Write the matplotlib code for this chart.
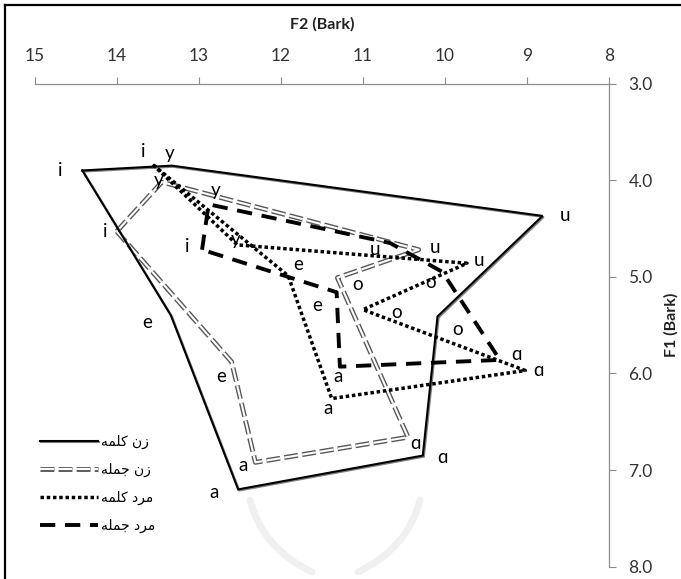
import matplotlib
matplotlib.use('Agg')
import matplotlib.pyplot as plt
from matplotlib.lines import Line2D
from matplotlib.legend_handler import HandlerTuple
from matplotlib.path import Path
from matplotlib.patches import PathPatch
import matplotlib.patheffects as pe

plt.rcParams['lines.scale_dashes'] = False

# ---------------- data ----------------
vowels = ['i', 'y', 'u', 'o', 'ɑ', 'a', 'e']

women_word_f2 = [14.42, 13.33, 8.81, 10.09, 10.27, 12.52, 13.34]
women_word_f1 = [3.90, 3.85, 4.37, 5.41, 6.85, 7.20, 5.40]

women_sent_f2 = [14.00, 13.45, 10.32, 11.31, 10.45, 12.31, 12.60]
women_sent_f1 = [4.53, 4.02, 4.72, 5.01, 6.66, 6.92, 5.88]

men_word_f2 = [13.56, 12.53, 9.73, 11.00, 9.02, 11.38, 11.91]
men_word_f1 = [3.84, 4.67, 4.86, 5.34, 5.97, 6.26, 4.99]

men_sent_f2 = [12.96, 12.88, 10.67, 10.03, 9.33, 11.28, 11.32]
men_sent_f1 = [4.72, 4.25, 4.65, 4.95, 5.86, 5.93, 5.16]

series_names = ['زن کلمه', 'زن جمله', 'مرد کلمه', 'مرد جمله']

x_ticks = [15, 14, 13, 12, 11, 10, 9, 8]
y_ticks = [3.0, 4.0, 5.0, 6.0, 7.0, 8.0]

# label offsets (pixels) for each vowel label
off_ww = [(-22, 0), (-2, 12), (22, 0), (20, -13), (20, -2), (-24, -3), (-24, -7)]
off_ws = [(-12, 0), (-3, 2), (16, 2), (20, -7), (8, -6), (-12, -3), (-10, -15)]
off_mw = [(-10, 13), (-2, 5), (12, 3), (34, -3), (13, 0), (-4, -10), (10, 11)]
off_ms = [(-15, 3), (7, 14), (-15, -7), (-12, -11), (17, 5), (-2, -10), (-19, -13)]

# ------------- Persian shaping (presentation forms, visual order) -------------
FORMS = {
    'ز': ('\uFEAF', '\uFEB0', None, None),
    'ر': ('\uFEAD', '\uFEAE', None, None),
    'د': ('\uFEA9', '\uFEAA', None, None),
    'ن': ('\uFEE5', '\uFEE6', '\uFEE7', '\uFEE8'),
    'ک': ('\uFB8E', '\uFB8F', '\uFB90', '\uFB91'),
    'ل': ('\uFEDD', '\uFEDE', '\uFEDF', '\uFEE0'),
    'م': ('\uFEE1', '\uFEE2', '\uFEE3', '\uFEE4'),
    'ه': ('\uFEE9', '\uFEEA', '\uFEEB', '\uFEEC'),
    'ج': ('\uFE9D', '\uFE9E', '\uFE9F', '\uFEA0'),
}


def shape(s):
    out = []
    for k, ch in enumerate(s):
        if ch not in FORMS:
            out.append(ch)
            continue
        prev = s[k - 1] if k > 0 else ''
        nxt = s[k + 1] if k + 1 < len(s) else ''
        jp = prev in FORMS and FORMS[prev][2] is not None
        jn = FORMS[ch][2] is not None and nxt in FORMS
        f = FORMS[ch]
        if jp and jn:
            out.append(f[3])
        elif jp:
            out.append(f[1])
        elif jn:
            out.append(f[2])
        else:
            out.append(f[0])
    return ''.join(out[::-1])


# ---------------- figure ----------------
W, H = 681, 579
fig = plt.figure(figsize=(W / 100, H / 100), dpi=100)


def fy(y):
    return 1 - y / H


# faint watermark at bottom centre (figure pixel coords)
wm_paths = [
    [(250, 500), (262, 548), (312, 572)],
    [(420, 500), (408, 548), (358, 572)],
]
for pts in wm_paths:
    verts = [(x / W, fy(y)) for x, y in pts]
    fig.add_artist(PathPatch(Path(verts, [Path.MOVETO, Path.CURVE3, Path.CURVE3]),
                             transform=fig.transFigure, fill=False,
                             edgecolor='#f0f0f0', lw=5, capstyle='round', zorder=0))

ax = fig.add_axes([34.7 / W, 1 - 566.7 / H, (609 - 34.7) / W, (566.7 - 83.5) / H])
ax.patch.set_alpha(0)
ax.set_xlim(15, 8)
ax.set_ylim(8, 3)

ax.xaxis.tick_top()
ax.xaxis.set_label_position('top')
ax.yaxis.tick_right()
ax.yaxis.set_label_position('right')
for s in ['left', 'bottom']:
    ax.spines[s].set_visible(False)
for s in ['top', 'right']:
    ax.spines[s].set_color('#8c8c8c')
    ax.spines[s].set_linewidth(0.9)

ax.set_xticks(x_ticks)
ax.set_xticklabels([str(t) for t in x_ticks])
ax.set_yticks(y_ticks)
ax.set_yticklabels(['%.1f' % t for t in y_ticks])
tick_font = ['Lato', 'DejaVu Sans']
for lab in ax.get_xticklabels() + ax.get_yticklabels():
    lab.set_family(tick_font)
ax.tick_params(axis='x', direction='out', length=5, color='#8c8c8c',
               labelsize=12.5, labelcolor='#333333', pad=8.8)
ax.tick_params(axis='y', direction='out', length=5, color='#8c8c8c',
               labelsize=12.5, labelcolor='#333333', pad=9)
ax.set_xlabel('F2 (Bark)', fontsize=11.5, fontweight='bold', family=tick_font,
              color='#222222', labelpad=14)
ax.set_ylabel('F1 (Bark)', fontsize=11.5, fontweight='bold', family=tick_font,
              color='#222222', labelpad=8, rotation=90)

DASH_DOUBLE = (0, (10, 3))
DASH_DOT = (0, (2.5, 2.0))
DASH_LONG = (0, (11, 7))
GRAY_D = '#575757'


def closed(a):
    return list(a) + [a[0]]


# women sentence (double gray dashed line) drawn first
ax.plot(closed(women_sent_f2), closed(women_sent_f1), color=GRAY_D, lw=3.5,
        linestyle=DASH_DOUBLE, dash_capstyle='butt', solid_joinstyle='miter')
ax.plot(closed(women_sent_f2), closed(women_sent_f1), color='white', lw=1.5,
        linestyle=DASH_DOUBLE, dash_capstyle='butt')

# women word (solid with gray shadow)
shadow = [pe.SimpleLineShadow(offset=(0.8, -0.8), shadow_color='#808080', alpha=1),
          pe.Normal()]
ax.plot(closed(women_word_f2), closed(women_word_f1), color='black', lw=1.5,
        path_effects=shadow, solid_joinstyle='miter')

# men word (dotted)
ax.plot(closed(men_word_f2), closed(men_word_f1), color='black', lw=2.5,
        linestyle=DASH_DOT, dash_capstyle='butt')

# men sentence (long dashes)
ax.plot(closed(men_sent_f2), closed(men_sent_f1), color='black', lw=2.8,
        linestyle=DASH_LONG, dash_capstyle='butt')

lab_font = ['Lato', 'DejaVu Sans']
for xs, ys, offs in [(women_word_f2, women_word_f1, off_ww),
                     (women_sent_f2, women_sent_f1, off_ws),
                     (men_word_f2, men_word_f1, off_mw),
                     (men_sent_f2, men_sent_f1, off_ms)]:
    for v, xv, yv, o in zip(vowels, xs, ys, offs):
        ax.annotate(v, (xv, yv), xytext=o, textcoords='offset pixels',
                    ha='center', va='center', fontsize=13.5, family=lab_font,
                    color='black')

# legend
h1 = Line2D([], [], color='black', lw=1.5, path_effects=shadow)
h2 = (Line2D([], [], color=GRAY_D, lw=3.5, linestyle=DASH_DOUBLE, dash_capstyle='butt'),
      Line2D([], [], color='white', lw=1.5, linestyle=DASH_DOUBLE, dash_capstyle='butt'))
h3 = Line2D([], [], color='black', lw=2.5, linestyle=DASH_DOT, dash_capstyle='butt')
h4 = Line2D([], [], color='black', lw=2.8, linestyle=DASH_LONG, dash_capstyle='butt')
leg = fig.legend([h1, h2, h3, h4], [shape(n) for n in series_names],
                 handler_map={tuple: HandlerTuple(ndivide=1, pad=0)},
                 loc='lower left', bbox_to_anchor=(40 / W, 1 - 533 / H),
                 frameon=False, handlelength=4.2, handletextpad=0.2,
                 labelspacing=1.0, borderpad=0, borderaxespad=0,
                 prop={'family': ['DejaVu Sans'], 'size': 10})

# figure frame (left and top edges)
fig.add_artist(Line2D([5 / W, 5 / W], [0, 1 - 5 / H], transform=fig.transFigure,
                      color='black', lw=1.6))
fig.add_artist(Line2D([5 / W, 1], [1 - 5 / H, 1 - 5 / H], transform=fig.transFigure,
                      color='black', lw=1.6))

fig.savefig('out.png', dpi=100)
